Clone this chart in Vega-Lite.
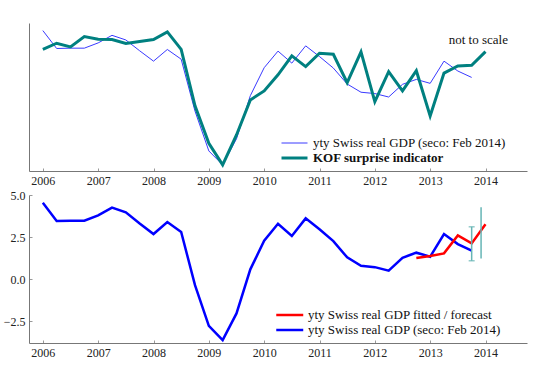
{
  "$schema": "https://vega.github.io/schema/vega-lite/v6.json",
  "padding": {"left": 3, "top": 23, "right": 5, "bottom": 5},
  "background": "white",
  "spacing": 24,
  "bounds": "flush",
  "config": {
    "font": "Liberation Serif",
    "view": {"stroke": null},
    "axis": {"grid": false, "labelFont": "Liberation Serif", "labelFontSize": 12, "labelColor": "#222", "domainColor": "#777", "tickColor": "#999", "title": null}
  },
  "datasets": {
    "top": [
      {"series": "yty Swiss real GDP (seco: Feb 2014)", "t": 2006.0, "v": 4.54},
      {"series": "yty Swiss real GDP (seco: Feb 2014)", "t": 2006.25, "v": 3.45},
      {"series": "yty Swiss real GDP (seco: Feb 2014)", "t": 2006.5, "v": 3.47},
      {"series": "yty Swiss real GDP (seco: Feb 2014)", "t": 2006.75, "v": 3.47},
      {"series": "yty Swiss real GDP (seco: Feb 2014)", "t": 2007.0, "v": 3.79},
      {"series": "yty Swiss real GDP (seco: Feb 2014)", "t": 2007.25, "v": 4.25},
      {"series": "yty Swiss real GDP (seco: Feb 2014)", "t": 2007.5, "v": 3.97},
      {"series": "yty Swiss real GDP (seco: Feb 2014)", "t": 2007.75, "v": 3.31},
      {"series": "yty Swiss real GDP (seco: Feb 2014)", "t": 2008.0, "v": 2.68},
      {"series": "yty Swiss real GDP (seco: Feb 2014)", "t": 2008.25, "v": 3.39},
      {"series": "yty Swiss real GDP (seco: Feb 2014)", "t": 2008.5, "v": 2.8},
      {"series": "yty Swiss real GDP (seco: Feb 2014)", "t": 2008.75, "v": -0.36},
      {"series": "yty Swiss real GDP (seco: Feb 2014)", "t": 2009.0, "v": -2.78},
      {"series": "yty Swiss real GDP (seco: Feb 2014)", "t": 2009.25, "v": -3.63},
      {"series": "yty Swiss real GDP (seco: Feb 2014)", "t": 2009.5, "v": -2.04},
      {"series": "yty Swiss real GDP (seco: Feb 2014)", "t": 2009.75, "v": 0.58},
      {"series": "yty Swiss real GDP (seco: Feb 2014)", "t": 2010.0, "v": 2.28},
      {"series": "yty Swiss real GDP (seco: Feb 2014)", "t": 2010.25, "v": 3.29},
      {"series": "yty Swiss real GDP (seco: Feb 2014)", "t": 2010.5, "v": 2.56},
      {"series": "yty Swiss real GDP (seco: Feb 2014)", "t": 2010.75, "v": 3.61},
      {"series": "yty Swiss real GDP (seco: Feb 2014)", "t": 2011.0, "v": 2.96},
      {"series": "yty Swiss real GDP (seco: Feb 2014)", "t": 2011.25, "v": 2.26},
      {"series": "yty Swiss real GDP (seco: Feb 2014)", "t": 2011.5, "v": 1.29},
      {"series": "yty Swiss real GDP (seco: Feb 2014)", "t": 2011.75, "v": 0.79},
      {"series": "yty Swiss real GDP (seco: Feb 2014)", "t": 2012.0, "v": 0.71},
      {"series": "yty Swiss real GDP (seco: Feb 2014)", "t": 2012.25, "v": 0.5},
      {"series": "yty Swiss real GDP (seco: Feb 2014)", "t": 2012.5, "v": 1.27},
      {"series": "yty Swiss real GDP (seco: Feb 2014)", "t": 2012.75, "v": 1.57},
      {"series": "yty Swiss real GDP (seco: Feb 2014)", "t": 2013.0, "v": 1.33},
      {"series": "yty Swiss real GDP (seco: Feb 2014)", "t": 2013.25, "v": 2.68},
      {"series": "yty Swiss real GDP (seco: Feb 2014)", "t": 2013.5, "v": 2.08},
      {"series": "yty Swiss real GDP (seco: Feb 2014)", "t": 2013.75, "v": 1.69},
      {"series": "KOF surprise indicator", "t": 2006.0, "v": 3.4},
      {"series": "KOF surprise indicator", "t": 2006.25, "v": 3.77},
      {"series": "KOF surprise indicator", "t": 2006.5, "v": 3.55},
      {"series": "KOF surprise indicator", "t": 2006.75, "v": 4.17},
      {"series": "KOF surprise indicator", "t": 2007.0, "v": 4.01},
      {"series": "KOF surprise indicator", "t": 2007.25, "v": 3.99},
      {"series": "KOF surprise indicator", "t": 2007.5, "v": 3.75},
      {"series": "KOF surprise indicator", "t": 2007.75, "v": 3.87},
      {"series": "KOF surprise indicator", "t": 2008.0, "v": 4.0},
      {"series": "KOF surprise indicator", "t": 2008.25, "v": 4.46},
      {"series": "KOF surprise indicator", "t": 2008.5, "v": 3.4},
      {"series": "KOF surprise indicator", "t": 2008.75, "v": -0.04},
      {"series": "KOF surprise indicator", "t": 2009.0, "v": -2.31},
      {"series": "KOF surprise indicator", "t": 2009.25, "v": -3.63},
      {"series": "KOF surprise indicator", "t": 2009.5, "v": -1.81},
      {"series": "KOF surprise indicator", "t": 2009.75, "v": 0.32},
      {"series": "KOF surprise indicator", "t": 2010.0, "v": 0.87},
      {"series": "KOF surprise indicator", "t": 2010.25, "v": 1.85},
      {"series": "KOF surprise indicator", "t": 2010.5, "v": 3.0},
      {"series": "KOF surprise indicator", "t": 2010.75, "v": 2.35},
      {"series": "KOF surprise indicator", "t": 2011.0, "v": 3.16},
      {"series": "KOF surprise indicator", "t": 2011.25, "v": 3.1},
      {"series": "KOF surprise indicator", "t": 2011.5, "v": 1.37},
      {"series": "KOF surprise indicator", "t": 2011.75, "v": 3.24},
      {"series": "KOF surprise indicator", "t": 2012.0, "v": 0.22},
      {"series": "KOF surprise indicator", "t": 2012.25, "v": 2.04},
      {"series": "KOF surprise indicator", "t": 2012.5, "v": 0.87},
      {"series": "KOF surprise indicator", "t": 2012.75, "v": 2.1},
      {"series": "KOF surprise indicator", "t": 2013.0, "v": -0.65},
      {"series": "KOF surprise indicator", "t": 2013.25, "v": 1.95},
      {"series": "KOF surprise indicator", "t": 2013.5, "v": 2.39},
      {"series": "KOF surprise indicator", "t": 2013.75, "v": 2.43},
      {"series": "KOF surprise indicator", "t": 2014.0, "v": 3.26}
    ],
    "bottom": [
      {"series": "yty Swiss real GDP (seco: Feb 2014)", "t": 2006.0, "v": 4.54},
      {"series": "yty Swiss real GDP (seco: Feb 2014)", "t": 2006.25, "v": 3.45},
      {"series": "yty Swiss real GDP (seco: Feb 2014)", "t": 2006.5, "v": 3.47},
      {"series": "yty Swiss real GDP (seco: Feb 2014)", "t": 2006.75, "v": 3.47},
      {"series": "yty Swiss real GDP (seco: Feb 2014)", "t": 2007.0, "v": 3.79},
      {"series": "yty Swiss real GDP (seco: Feb 2014)", "t": 2007.25, "v": 4.25},
      {"series": "yty Swiss real GDP (seco: Feb 2014)", "t": 2007.5, "v": 3.97},
      {"series": "yty Swiss real GDP (seco: Feb 2014)", "t": 2007.75, "v": 3.31},
      {"series": "yty Swiss real GDP (seco: Feb 2014)", "t": 2008.0, "v": 2.68},
      {"series": "yty Swiss real GDP (seco: Feb 2014)", "t": 2008.25, "v": 3.39},
      {"series": "yty Swiss real GDP (seco: Feb 2014)", "t": 2008.5, "v": 2.8},
      {"series": "yty Swiss real GDP (seco: Feb 2014)", "t": 2008.75, "v": -0.36},
      {"series": "yty Swiss real GDP (seco: Feb 2014)", "t": 2009.0, "v": -2.78},
      {"series": "yty Swiss real GDP (seco: Feb 2014)", "t": 2009.25, "v": -3.63},
      {"series": "yty Swiss real GDP (seco: Feb 2014)", "t": 2009.5, "v": -2.04},
      {"series": "yty Swiss real GDP (seco: Feb 2014)", "t": 2009.75, "v": 0.58},
      {"series": "yty Swiss real GDP (seco: Feb 2014)", "t": 2010.0, "v": 2.28},
      {"series": "yty Swiss real GDP (seco: Feb 2014)", "t": 2010.25, "v": 3.29},
      {"series": "yty Swiss real GDP (seco: Feb 2014)", "t": 2010.5, "v": 2.56},
      {"series": "yty Swiss real GDP (seco: Feb 2014)", "t": 2010.75, "v": 3.61},
      {"series": "yty Swiss real GDP (seco: Feb 2014)", "t": 2011.0, "v": 2.96},
      {"series": "yty Swiss real GDP (seco: Feb 2014)", "t": 2011.25, "v": 2.26},
      {"series": "yty Swiss real GDP (seco: Feb 2014)", "t": 2011.5, "v": 1.29},
      {"series": "yty Swiss real GDP (seco: Feb 2014)", "t": 2011.75, "v": 0.79},
      {"series": "yty Swiss real GDP (seco: Feb 2014)", "t": 2012.0, "v": 0.71},
      {"series": "yty Swiss real GDP (seco: Feb 2014)", "t": 2012.25, "v": 0.5},
      {"series": "yty Swiss real GDP (seco: Feb 2014)", "t": 2012.5, "v": 1.27},
      {"series": "yty Swiss real GDP (seco: Feb 2014)", "t": 2012.75, "v": 1.57},
      {"series": "yty Swiss real GDP (seco: Feb 2014)", "t": 2013.0, "v": 1.33},
      {"series": "yty Swiss real GDP (seco: Feb 2014)", "t": 2013.25, "v": 2.68},
      {"series": "yty Swiss real GDP (seco: Feb 2014)", "t": 2013.5, "v": 2.08},
      {"series": "yty Swiss real GDP (seco: Feb 2014)", "t": 2013.75, "v": 1.69},
      {"series": "yty Swiss real GDP fitted / forecast", "t": 2012.75, "v": 1.25},
      {"series": "yty Swiss real GDP fitted / forecast", "t": 2013.0, "v": 1.37},
      {"series": "yty Swiss real GDP fitted / forecast", "t": 2013.25, "v": 1.53},
      {"series": "yty Swiss real GDP fitted / forecast", "t": 2013.5, "v": 2.6},
      {"series": "yty Swiss real GDP fitted / forecast", "t": 2013.75, "v": 2.12},
      {"series": "yty Swiss real GDP fitted / forecast", "t": 2014.0, "v": 3.26}
    ],
    "bands": [
      {"t": 2013.75, "lo": 1.09, "hi": 3.11, "capped": true},
      {"t": 2013.92, "lo": 1.23, "hi": 4.27, "capped": false}
    ]
  },
  "vconcat": [
    {
      "width": 498,
      "height": 148,
      "layer": [
        {
          "data": {"name": "top"},
          "mark": {"type": "line", "clip": true},
          "encoding": {
            "x": {"field": "t", "type": "quantitative",
              "scale": {"domain": [2005.75, 2014.75], "nice": false, "zero": false},
              "axis": {"values": [2006, 2006.25, 2006.5, 2006.75, 2007, 2007.25, 2007.5, 2007.75, 2008, 2008.25, 2008.5, 2008.75, 2009, 2009.25, 2009.5, 2009.75, 2010, 2010.25, 2010.5, 2010.75, 2011, 2011.25, 2011.5, 2011.75, 2012, 2012.25, 2012.5, 2012.75, 2013, 2013.25, 2013.5, 2013.75, 2014, 2014.25, 2014.5, 2014.75],
                "labelExpr": "datum.value % 1 === 0 ? format(datum.value, 'd') : ''",
                "tickSize": -3, "labelPadding": 7, "labelOverlap": false, "labelFlush": false}},
            "y": {"field": "v", "type": "quantitative",
              "scale": {"domain": [-4, 5], "nice": false, "zero": false},
              "axis": {"labels": false, "ticks": false}},
            "color": {"field": "series", "type": "nominal",
              "scale": {"domain": ["yty Swiss real GDP (seco: Feb 2014)", "KOF surprise indicator"], "range": ["#3a3aff", "#008080"]},
              "legend": {"orient": "none", "legendX": 251, "legendY": 113, "title": null, "symbolType": "M-1,0H3", "symbolSize": 169, "labelFontSize": 13, "labelFont": "Liberation Serif", "labelColor": "#111", "rowPadding": 0, "padding": 0, "labelOffset": 17, "labelLimit": 400,
                "encode": {"labels": {"update": {"fontWeight": {"signal": "datum.label === 'KOF surprise indicator' ? 'bold' : 'normal'"}}}}}},
            "strokeWidth": {"field": "series", "type": "nominal",
              "scale": {"domain": ["yty Swiss real GDP (seco: Feb 2014)", "KOF surprise indicator"], "range": [1, 3]},
              "legend": {"orient": "none", "legendX": 251, "legendY": 113, "title": null, "symbolType": "M-1,0H3", "symbolSize": 169, "labelFontSize": 13, "labelFont": "Liberation Serif", "labelColor": "#111", "rowPadding": 0, "padding": 0, "labelOffset": 17, "labelLimit": 400,
                "encode": {"labels": {"update": {"fontWeight": {"signal": "datum.label === 'KOF surprise indicator' ? 'bold' : 'normal'"}}}}}}
          }
        },
        {
          "data": {"values": [{}]},
          "mark": {"type": "text", "font": "Liberation Serif", "fontSize": 13, "color": "#111", "align": "center", "baseline": "middle"},
          "encoding": {
            "x": {"datum": 2013.87, "type": "quantitative"},
            "y": {"datum": 3.95, "type": "quantitative"},
            "text": {"value": "not to scale"}
          }
        }
      ]
    },
    {
      "width": 498,
      "height": 148,
      "layer": [
        {
          "data": {"name": "bottom"},
          "mark": {"type": "line", "clip": true, "strokeWidth": 2.5},
          "encoding": {
            "x": {"field": "t", "type": "quantitative",
              "scale": {"domain": [2005.75, 2014.75], "nice": false, "zero": false},
              "axis": {"values": [2006, 2006.25, 2006.5, 2006.75, 2007, 2007.25, 2007.5, 2007.75, 2008, 2008.25, 2008.5, 2008.75, 2009, 2009.25, 2009.5, 2009.75, 2010, 2010.25, 2010.5, 2010.75, 2011, 2011.25, 2011.5, 2011.75, 2012, 2012.25, 2012.5, 2012.75, 2013, 2013.25, 2013.5, 2013.75, 2014, 2014.25, 2014.5, 2014.75],
                "labelExpr": "datum.value % 1 === 0 ? format(datum.value, 'd') : ''",
                "tickSize": -3, "labelPadding": 7, "labelOverlap": false, "labelFlush": false}},
            "y": {"field": "v", "type": "quantitative",
              "scale": {"domain": [-3.8, 5], "nice": false, "zero": false},
              "axis": {"values": [-2.5, 0, 2.5, 5], "format": ".1f", "tickSize": -3, "labelPadding": 7}},
            "color": {"field": "series", "type": "nominal",
              "scale": {"domain": ["yty Swiss real GDP fitted / forecast", "yty Swiss real GDP (seco: Feb 2014)"], "range": ["#ff0000", "#0000ff"]},
              "legend": {"orient": "none", "legendX": 246, "legendY": 112, "title": null, "symbolType": "M-1,0H3", "symbolSize": 182, "symbolStrokeWidth": 2.5, "labelFontSize": 13, "labelFont": "Liberation Serif", "labelColor": "#111", "rowPadding": 0, "padding": 0, "labelOffset": 17, "labelLimit": 400}}
          }
        },
        {
          "data": {"name": "bands"},
          "mark": {"type": "rule", "color": "#66b5b5", "strokeWidth": 1.5},
          "encoding": {
            "x": {"field": "t", "type": "quantitative"},
            "y": {"field": "lo", "type": "quantitative"},
            "y2": {"field": "hi"}
          }
        },
        {
          "data": {"name": "bands"},
          "transform": [{"filter": "datum.capped"}],
          "mark": {"type": "tick", "orient": "horizontal", "color": "#66b5b5", "size": 6, "thickness": 1.5},
          "encoding": {
            "x": {"field": "t", "type": "quantitative"},
            "y": {"field": "lo", "type": "quantitative"}
          }
        },
        {
          "data": {"name": "bands"},
          "transform": [{"filter": "datum.capped"}],
          "mark": {"type": "tick", "orient": "horizontal", "color": "#66b5b5", "size": 6, "thickness": 1.5},
          "encoding": {
            "x": {"field": "t", "type": "quantitative"},
            "y": {"field": "hi", "type": "quantitative"}
          }
        }
      ]
    }
  ],
  "resolve": {"scale": {"color": "independent", "strokeWidth": "independent", "x": "independent", "y": "independent"}, "legend": {"color": "independent", "strokeWidth": "independent"}}
}
